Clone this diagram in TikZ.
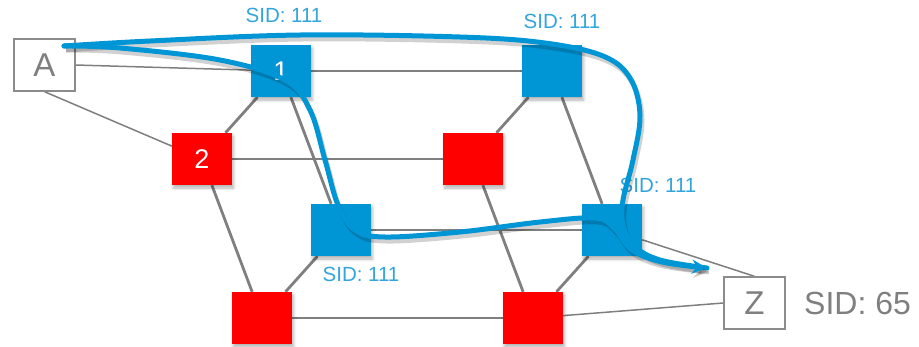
\documentclass[tikz,border=0pt]{standalone}
\usepackage{fontspec}
\setmainfont{Liberation Sans}
\usetikzlibrary{arrows.meta,shadows.blur,backgrounds}
\definecolor{Bc}{HTML}{0096D6}
\definecolor{Rc}{HTML}{FF0000}
\definecolor{Sc}{HTML}{33A5DC}
\definecolor{Gc}{HTML}{7F7F7F}
\definecolor{Ec}{HTML}{8C8C8C}
\tikzset{
  sq/.style={rectangle, inner sep=0pt, minimum width=60pt, minimum height=52pt,
    text=white, font=\fontsize{27}{27}\selectfont,
    blur shadow={shadow xshift=1.5pt, shadow yshift=-3pt, shadow blur radius=3pt, shadow opacity=30}},
  bsq/.style={sq, fill=Bc},
  rsq/.style={sq, fill=Rc},
  endbox/.style={rectangle, draw=Ec, line width=1.4pt, fill=white, inner sep=0pt,
    minimum width=61pt, minimum height=52pt, text=Gc, font=\fontsize{33}{33}\selectfont},
  edge/.style={Gc, line width=2.8pt},
  thinedge/.style={Gc, line width=1.5pt},
  sid/.style={text=Sc, font=\fontsize{20.5}{20.5}\selectfont},
  route/.style={Bc, line width=5pt, line cap=round,
    preaction={draw=black, opacity=0.18, line width=5pt, transform canvas={shift={(2pt,-4pt)}}}},
}
\begin{document}
\begin{tikzpicture}[x=1pt, y=-1pt]
  \useasboundingbox (0,0) rectangle (919,346);
  % routers: blue ones carry the anycast SID
  \node[bsq] (b1) at (281,71) {1};
  \node[bsq] (b2) at (552,71) {};
  \node[rsq] (r2) at (202,159) {2};
  \node[rsq] (r3) at (473,159) {};
  \node[bsq] (b3) at (341,230) {};
  \node[bsq] (b4) at (612,230) {};
  \node[rsq] (r4) at (262,318) {};
  \node[rsq] (r5) at (533,318) {};
  \node[endbox] (a) at (44.5,65) {A};
  \node[endbox] (z) at (754.5,303) {Z};
  % links, kept under the squares
  \begin{scope}[on background layer]
    \foreach \u/\v in {b1/b2, b1/r2, b1/b3, r2/r3, r2/r4, b2/r3, b2/b4,
                       r3/r5, b3/b4, b3/r4, b4/r5, r4/r5}
      \draw[edge] (\u) -- (\v);
    \draw[thinedge] (a.east) -- (b1);
    \draw[thinedge] (a.south) -- (r2);
    \draw[thinedge] (b4) -- (z.north);
    \draw[thinedge] (r5) -- (z.west);
  \end{scope}
  % labels
  \node[sid] (l1) at (284,15) {SID: 111};
  \node[sid] (l2) at (562,21) {SID: 111};
  \node[sid] (l3) at (658,185) {SID: 111};
  \node[sid] (l4) at (361,274) {SID: 111};
  \node[text=Gc, font=\fontsize{32}{32}\selectfont, anchor=west, inner sep=0pt] (zsid) at (804,303) {SID: 65};
  % the two routes out of A
  \coordinate (s) at (64,46);
  \coordinate (tip) at (707,268);
  \draw[route] plot[smooth, tension=0.6] coordinates {(s) (150,41) (300,35) (460,37) (545,43)
    (603,56) (630,78) (640,115) (633,160) (623,200) (623,225) (634,246) (660,260) (tip)};
  \draw[route, -{Stealth[length=15pt, width=14pt]}] plot[smooth, tension=0.6] coordinates {(s) (120,48)
    (220,60) (285,80) (310,110) (325,160) (338,205) (355,230) (385,237) (460,232) (540,222)
    (595,218) (614,228) (632,250) (662,262) (tip)};
\end{tikzpicture}
\end{document}
